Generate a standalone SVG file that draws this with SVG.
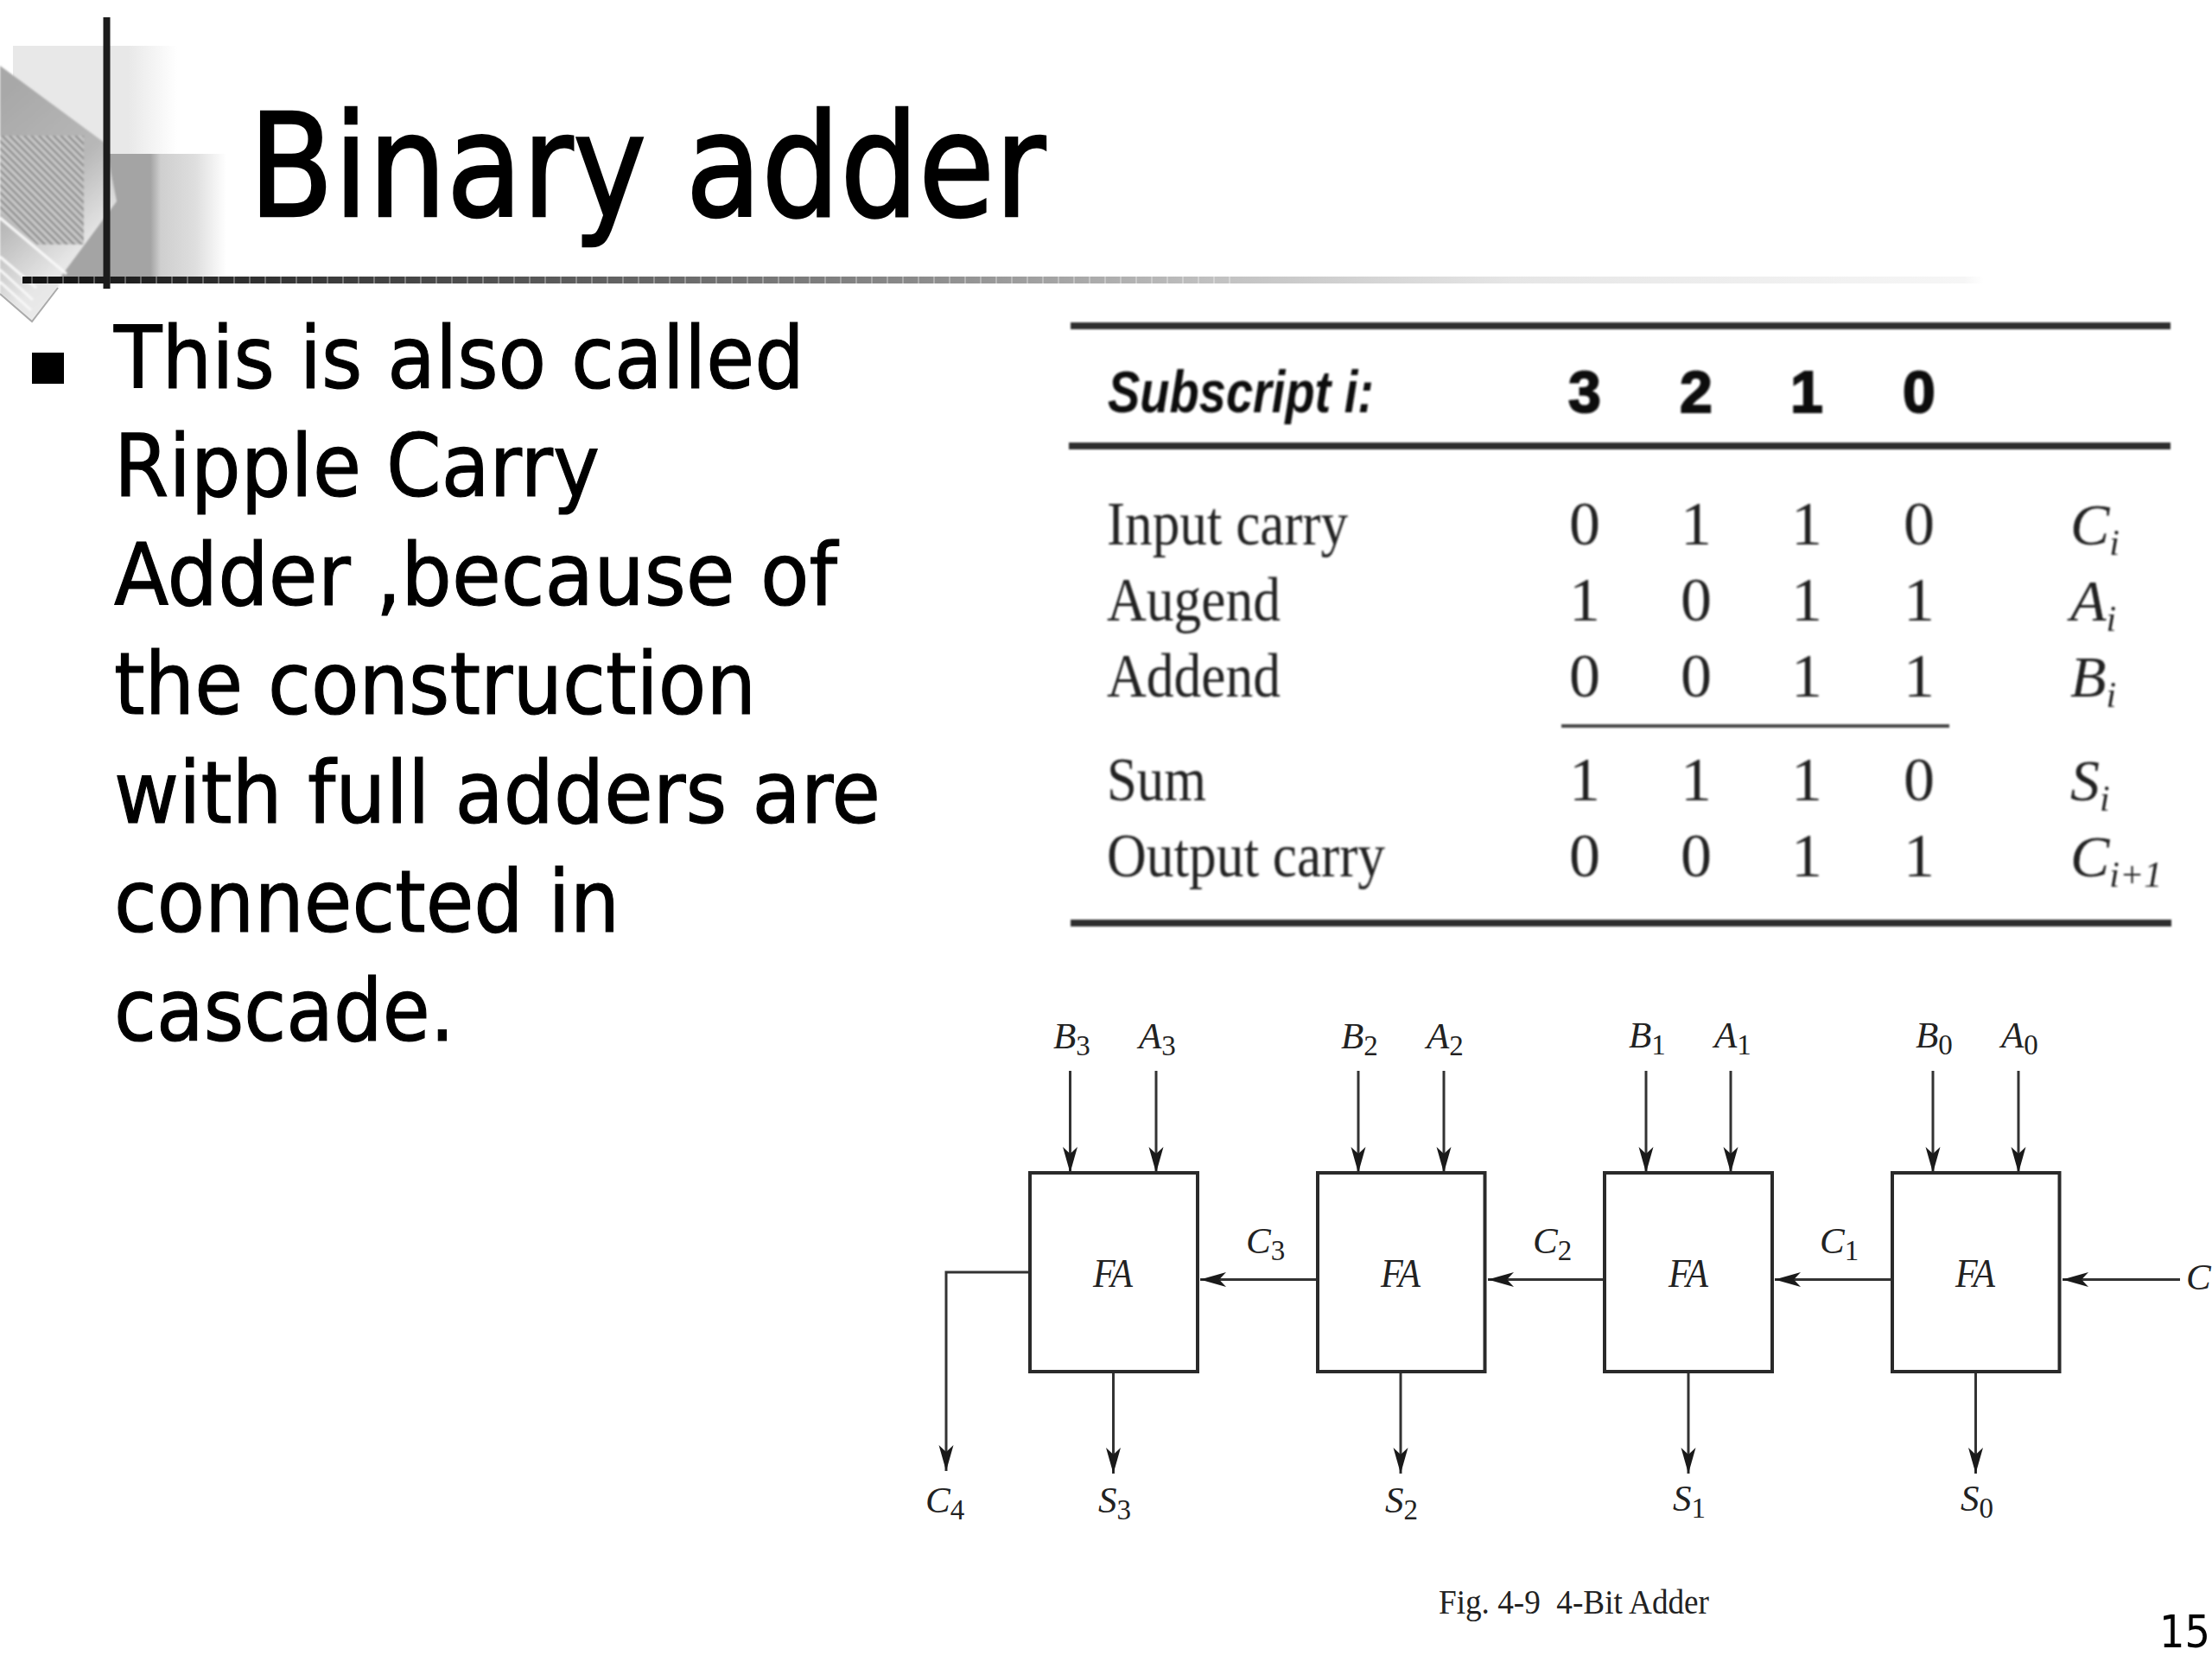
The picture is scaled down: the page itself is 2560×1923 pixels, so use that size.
<svg xmlns="http://www.w3.org/2000/svg" width="2560" height="1923" viewBox="0 0 2560 1923">
<style>
.title{font-family:"DejaVu Sans",sans-serif;font-size:165px;fill:#000;stroke:#000;stroke-width:2.5}
.body{font-family:"DejaVu Sans",sans-serif;font-size:100px;fill:#000;stroke:#000;stroke-width:1.2}
.num{font-family:"DejaVu Sans",sans-serif;font-size:52px;fill:#000}
.t{font-family:"Liberation Serif",serif;font-size:72px;fill:#222}
.d{font-family:"Liberation Serif",serif;font-size:72px;fill:#222;text-anchor:middle}
.h{font-family:"Liberation Sans",sans-serif;font-size:68px;font-weight:700;fill:#111;stroke:#111;stroke-width:2;text-anchor:middle}
.hi{font-family:"Liberation Sans",sans-serif;font-size:68px;font-style:italic;font-weight:700;fill:#111}
.v{font-family:"Liberation Serif",serif;font-size:68px;font-style:italic;fill:#222}
.vs{font-size:42px}
.lab{font-family:"Liberation Serif",serif;font-size:43px;font-style:italic;fill:#222}
.sub{font-size:33px;font-style:normal}
.fa{font-family:"Liberation Serif",serif;font-size:46px;font-style:italic;fill:#222}
.cap{font-family:"Liberation Serif",serif;font-size:41px;fill:#222;white-space:pre}
.rule{stroke:#2e2e2e;stroke-width:8;fill:none}
.box{fill:#fff;stroke:#2a2a2a;stroke-width:4}
.w{fill:none;stroke:#333;stroke-width:3}
.arr{marker-end:url(#ah)}
</style>
<defs>
<marker id="ah" markerUnits="userSpaceOnUse" markerWidth="34" markerHeight="20" refX="30" refY="10" orient="auto">
<path d="M0 1.500L30 10L0 18.500L8 10Z" fill="#1a1a1a"/>
</marker>
<linearGradient id="rg" x1="0" x2="1" y1="0" y2="0"><stop offset="0" stop-color="#111"/><stop offset=".253" stop-color="#555"/><stop offset=".455" stop-color="#8a8a8a"/><stop offset=".605" stop-color="#c0c0c0"/><stop offset=".76" stop-color="#e6e6e6"/><stop offset=".99" stop-color="#f6f6f6"/><stop offset="1" stop-color="#fff"/></linearGradient>
<linearGradient id="lg" x1="0" x2="1" y1="0" y2="0"><stop offset="0" stop-color="#e8e8e8"/><stop offset=".7" stop-color="#e8e8e8"/><stop offset="1" stop-color="#fff"/></linearGradient>
<linearGradient id="dg" x1="0" x2="1" y1="0" y2="0"><stop offset="0" stop-color="#a4a4a4"/><stop offset=".56" stop-color="#a4a4a4"/><stop offset=".62" stop-color="#cfcfcf"/><stop offset=".82" stop-color="#dedede"/><stop offset="1" stop-color="#fff"/></linearGradient>
<linearGradient id="mg" x1="0.3" x2="0.7" y1="0" y2="1"><stop offset="0" stop-color="#a8a8a8"/><stop offset=".45" stop-color="#b8b8b8"/><stop offset=".75" stop-color="#e6e6e6"/><stop offset="1" stop-color="#efefef"/></linearGradient>
<pattern id="ha" width="6" height="6" patternUnits="userSpaceOnUse" patternTransform="rotate(45)"><rect width="6" height="6" fill="#c8c8c8"/><rect width="6" height="2.400" fill="#8c8c8c"/></pattern>
<pattern id="tk" width="18" height="8" patternUnits="userSpaceOnUse"><rect width="2" height="8" fill="#fff" fill-opacity=".3"/></pattern>
<filter id="soft" x="-2%" y="-2%" width="104%" height="104%"><feGaussianBlur stdDeviation="1"/></filter>
<filter id="soft2" x="-5%" y="-5%" width="110%" height="110%"><feGaussianBlur stdDeviation=".8"/></filter>
</defs>
<rect width="2560" height="1923" fill="#fff"/>

<g id="decoration">
<rect x="15" y="53" width="190" height="125" fill="url(#lg)"/>
<rect x="62" y="178" width="200" height="142" fill="url(#dg)"/>
<g filter="url(#soft2)">
<polygon points="0,76 122,166 135,233 72,318 67,333 37,372 0,340" fill="url(#mg)"/>
<polygon points="0,157 97,157 97,283 43,283 0,245" fill="url(#ha)"/>
<path d="M0 252L77 317M0 297L42 333M0 312L38 347M0 326L36 359" stroke="#f8f8f8" stroke-width="3" fill="none"/>
</g>
<path d="M67 333L37 372L0 340" stroke="#aaa" stroke-width="2" fill="none"/>
<rect x="26" y="320" width="2270" height="8" fill="url(#rg)"/>
<rect x="26" y="320" width="1400" height="8" fill="url(#tk)"/>
<rect x="119.500" y="20" width="8" height="314" fill="#1c1c1c"/>
</g>

<g id="heading"><text class="title" x="288" y="250" textLength="922" lengthAdjust="spacingAndGlyphs">Binary adder</text></g>

<g id="bullet-text">
<rect x="37" y="408" width="37" height="36" fill="#000"/>
<text class="body" x="132" y="449" textLength="799" lengthAdjust="spacingAndGlyphs">This is also called</text>
<text class="body" x="132" y="574" textLength="562" lengthAdjust="spacingAndGlyphs">Ripple Carry</text>
<text class="body" x="132" y="700" textLength="837" lengthAdjust="spacingAndGlyphs">Adder ,because of</text>
<text class="body" x="132" y="826" textLength="743" lengthAdjust="spacingAndGlyphs">the construction</text>
<text class="body" x="132" y="952" textLength="887" lengthAdjust="spacingAndGlyphs">with full adders are</text>
<text class="body" x="132" y="1078" textLength="585" lengthAdjust="spacingAndGlyphs">connected in</text>
<text class="body" x="132" y="1204" textLength="394" lengthAdjust="spacingAndGlyphs">cascade.</text>
</g>

<g id="table" filter="url(#soft)">
<path class="rule" d="M1239 377H2512M1237 516H2512M1239 1068H2513"/>
<path d="M1807 840H2256" stroke="#444" stroke-width="4"/>
<text class="hi" x="1282" y="477" textLength="308" lengthAdjust="spacingAndGlyphs">Subscript i:</text>
<text class="h" x="1834" y="477">3</text><text class="h" x="1963" y="477">2</text><text class="h" x="2091" y="477">1</text><text class="h" x="2221" y="477">0</text>

<text class="t" x="1281" y="630" textLength="279" lengthAdjust="spacingAndGlyphs">Input carry</text>
<text class="d" x="1834" y="630">0</text><text class="d" x="1963" y="630">1</text><text class="d" x="2091" y="630">1</text><text class="d" x="2221" y="630">0</text>
<text class="v" x="2396" y="630">C<tspan class="vs" dy="12">i</tspan></text>

<text class="t" x="1281" y="718" textLength="201" lengthAdjust="spacingAndGlyphs">Augend</text>
<text class="d" x="1834" y="718">1</text><text class="d" x="1963" y="718">0</text><text class="d" x="2091" y="718">1</text><text class="d" x="2221" y="718">1</text>
<text class="v" x="2396" y="718">A<tspan class="vs" dy="12">i</tspan></text>

<text class="t" x="1281" y="806" textLength="201" lengthAdjust="spacingAndGlyphs">Addend</text>
<text class="d" x="1834" y="806">0</text><text class="d" x="1963" y="806">0</text><text class="d" x="2091" y="806">1</text><text class="d" x="2221" y="806">1</text>
<text class="v" x="2396" y="806">B<tspan class="vs" dy="12">i</tspan></text>

<text class="t" x="1281" y="926" textLength="115" lengthAdjust="spacingAndGlyphs">Sum</text>
<text class="d" x="1834" y="926">1</text><text class="d" x="1963" y="926">1</text><text class="d" x="2091" y="926">1</text><text class="d" x="2221" y="926">0</text>
<text class="v" x="2396" y="926">S<tspan class="vs" dy="12">i</tspan></text>

<text class="t" x="1281" y="1014" textLength="322" lengthAdjust="spacingAndGlyphs">Output carry</text>
<text class="d" x="1834" y="1014">0</text><text class="d" x="1963" y="1014">0</text><text class="d" x="2091" y="1014">1</text><text class="d" x="2221" y="1014">1</text>
<text class="v" x="2396" y="1014">C<tspan class="vs" dy="12">i+1</tspan></text>
</g>

<g id="connectors">
<path class="w arr" d="M1238.500 1239V1357"/><path class="w arr" d="M1338 1239V1357"/>
<path class="w arr" d="M1572 1239V1357"/><path class="w arr" d="M1671 1239V1357"/>
<path class="w arr" d="M1905 1239V1357"/><path class="w arr" d="M2003 1239V1357"/>
<path class="w arr" d="M2237 1239V1357"/><path class="w arr" d="M2336 1239V1357"/>
<path class="w arr" d="M1288.500 1587V1705"/><path class="w arr" d="M1621 1587V1705"/>
<path class="w arr" d="M1954 1587V1705"/><path class="w arr" d="M2286.500 1587V1705"/>
<path class="w arr" d="M1192 1472H1095V1702"/>
<path class="w arr" d="M1525 1480.500H1389"/>
<path class="w arr" d="M1857 1480.500H1722"/>
<path class="w arr" d="M2190 1480.500H2054"/>
<path class="w arr" d="M2523 1480.500H2387"/>
</g>

<g id="fa3"><rect class="box" x="1192" y="1357" width="194" height="230"/><text class="fa" x="1265" y="1489" textLength="46" lengthAdjust="spacingAndGlyphs">FA</text></g>
<g id="fa2"><rect class="box" x="1525" y="1357" width="193.500" height="230"/><text class="fa" x="1598" y="1489" textLength="46" lengthAdjust="spacingAndGlyphs">FA</text></g>
<g id="fa1"><rect class="box" x="1857" y="1357" width="194" height="230"/><text class="fa" x="1931" y="1489" textLength="46" lengthAdjust="spacingAndGlyphs">FA</text></g>
<g id="fa0"><rect class="box" x="2190" y="1357" width="193.500" height="230"/><text class="fa" x="2263" y="1489" textLength="46" lengthAdjust="spacingAndGlyphs">FA</text></g>

<g id="labels">
<text class="lab" x="1219" y="1213">B<tspan class="sub" dy="8">3</tspan></text>
<text class="lab" x="1318" y="1213">A<tspan class="sub" dy="8">3</tspan></text>
<text class="lab" x="1552" y="1213">B<tspan class="sub" dy="8">2</tspan></text>
<text class="lab" x="1651" y="1213">A<tspan class="sub" dy="8">2</tspan></text>
<text class="lab" x="1885" y="1212">B<tspan class="sub" dy="8">1</tspan></text>
<text class="lab" x="1984" y="1212">A<tspan class="sub" dy="8">1</tspan></text>
<text class="lab" x="2217" y="1212">B<tspan class="sub" dy="8">0</tspan></text>
<text class="lab" x="2316" y="1212">A<tspan class="sub" dy="8">0</tspan></text>
<text class="lab" x="1442" y="1450">C<tspan class="sub" dy="8">3</tspan></text>
<text class="lab" x="1774" y="1450">C<tspan class="sub" dy="8">2</tspan></text>
<text class="lab" x="2106" y="1450">C<tspan class="sub" dy="8">1</tspan></text>
<text class="lab" x="2530" y="1492">C</text>
<text class="lab" x="1071" y="1750">C<tspan class="sub" dy="8">4</tspan></text>
<text class="lab" x="1271" y="1750">S<tspan class="sub" dy="8">3</tspan></text>
<text class="lab" x="1603" y="1750">S<tspan class="sub" dy="8">2</tspan></text>
<text class="lab" x="1936" y="1748">S<tspan class="sub" dy="8">1</tspan></text>
<text class="lab" x="2269" y="1748">S<tspan class="sub" dy="8">0</tspan></text>
<text class="cap" x="1665" y="1867" textLength="313" lengthAdjust="spacingAndGlyphs">Fig. 4-9  4-Bit Adder</text>
</g>

<g id="page-number"><text class="num" x="2499" y="1906" textLength="59" lengthAdjust="spacingAndGlyphs">15</text></g>
</svg>
